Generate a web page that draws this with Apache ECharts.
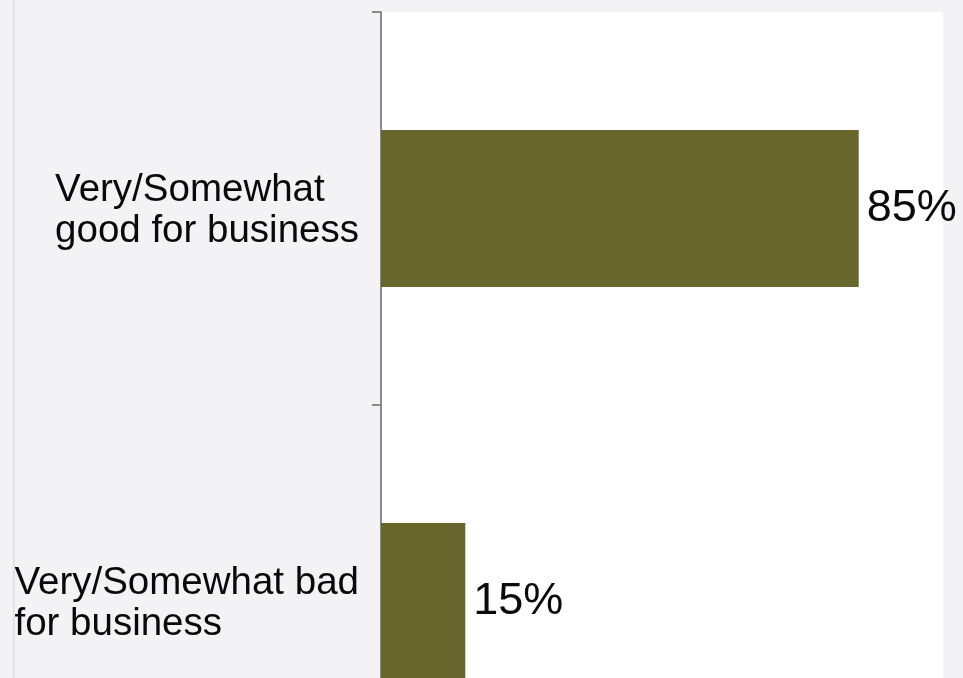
<!DOCTYPE html>
<html>
<head>
<meta charset="utf-8">
<script src="https://cdn.jsdelivr.net/npm/echarts@6/dist/echarts.min.js"></script>
<style>
html,body{margin:0;padding:0;background:#f3f3f5;}
#chart{width:963px;height:678px;}
</style>
</head>
<body>
<div id="chart"></div>
<script>
var categories = ["Very/Somewhat\ngood for business", "Very/Somewhat bad\nfor business"];
var values = [85, 15];
var valueSuffix = "%";

var chart = echarts.init(document.getElementById('chart'), null, {renderer: 'canvas'});
chart.setOption({
  backgroundColor: '#f3f3f5',
  animation: false,
  graphic: [{
    type: 'rect',
    shape: {x: 13, y: 0, width: 1.5, height: 678},
    style: {fill: '#dedede'},
    silent: true
  }],
  grid: {
    left: 381, right: 20, top: 12, height: 786,
    outerBoundsMode: 'none',
    show: true, backgroundColor: '#ffffff', borderWidth: 0,
    containLabel: false
  },
  xAxis: {
    type: 'value', min: 0, max: 100, show: false
  },
  yAxis: {
    type: 'category',
    data: categories,
    inverse: true,
    axisLine: {show: true, lineStyle: {color: '#8a8a8a', width: 2}},
    axisTick: {show: true, length: 9, lineStyle: {color: '#8a8a8a', width: 2}},
    splitLine: {show: false},
    axisLabel: {
      margin: 22,
      padding: [5, 0, 0, 0],
      formatter: function (v) { return '{a|' + v.split('\n').join('}\n{a|') + '}'; },
      rich: {
        a: {align: 'left', fontFamily: 'Liberation Sans, Arial, sans-serif', fontSize: 38.5, color: '#0a0a0a', lineHeight: 41}
      }
    }
  },
  series: [{
    type: 'bar',
    data: values,
    barCategoryGap: '60%',
    itemStyle: {color: '#67672d'},
    label: {
      show: true,
      position: 'right',
      distance: 8,
      formatter: function (p) { return p.value + valueSuffix; },
      fontFamily: 'Liberation Sans, Arial, sans-serif',
      fontSize: 45,
      color: '#0a0a0a'
    }
  }]
});
</script>
</body>
</html>
